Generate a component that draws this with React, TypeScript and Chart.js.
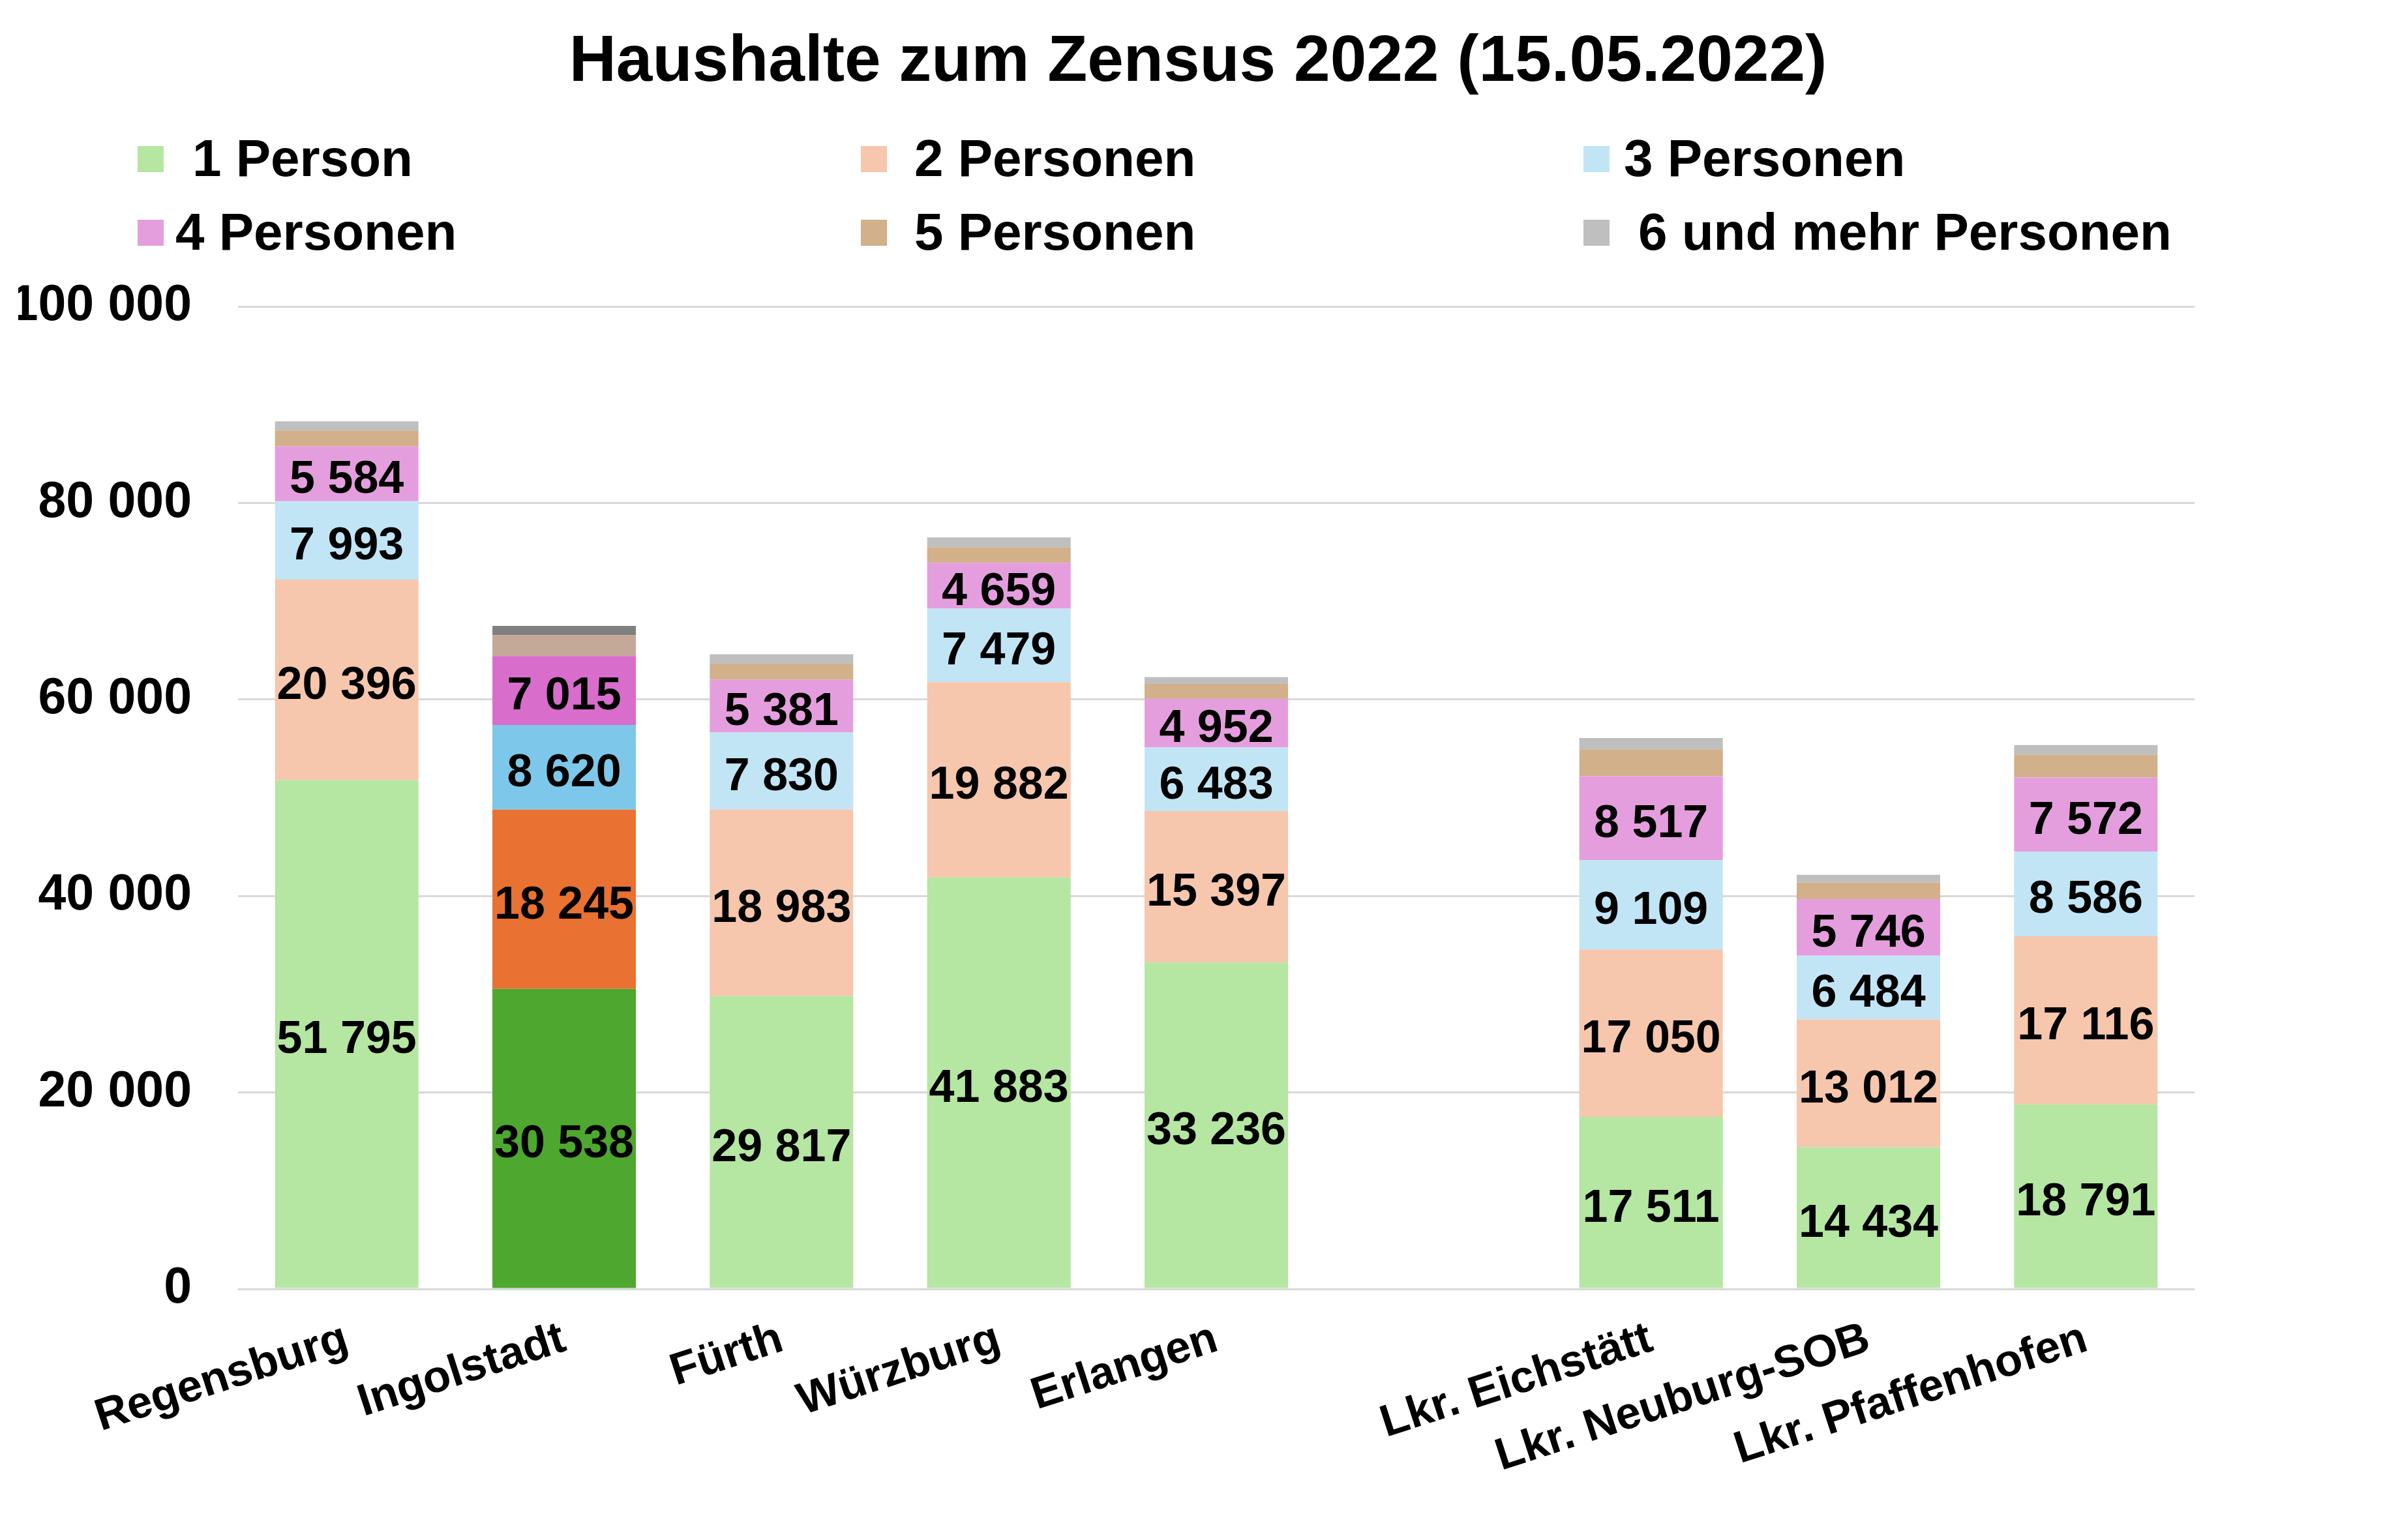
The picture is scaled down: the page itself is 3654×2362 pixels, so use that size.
import { useEffect, useRef } from 'react';
import { Chart, registerables } from 'chart.js';

Chart.register(...registerables);

const FONT = "'Liberation Sans', Arial, sans-serif";

const categories = [
  'Regensburg',
  'Ingolstadt',
  'Fürth',
  'Würzburg',
  'Erlangen',
  '',
  'Lkr. Eichstätt',
  'Lkr. Neuburg-SOB',
  'Lkr. Pfaffenhofen',
];

const onePerson = [51795, 30538, 29817, 41883, 33236, null, 17511, 14434, 18791];
const twoPersons = [20396, 18245, 18983, 19882, 15397, null, 17050, 13012, 17116];
const threePersons = [7993, 8620, 7830, 7479, 6483, null, 9109, 6484, 8586];
const fourPersons = [5584, 7015, 5381, 4659, 4952, null, 8517, 5746, 7572];
const fivePersons = [1610, 2120, 1630, 1565, 1505, null, 2740, 1700, 2300];
const sixPlusPersons = [930, 950, 955, 1020, 710, null, 1150, 775, 995];

const seriesLabels = ['1 Person', '2 Personen', '3 Personen', '4 Personen', '5 Personen', '6 und mehr Personen'];
const seriesValues = [onePerson, twoPersons, threePersons, fourPersons, fivePersons, sixPlusPersons];

// normal colours and the highlighted (Ingolstadt) colours
const baseColors = ['#B5E6A2', '#F6C6AD', '#C1E5F5', '#E59EDD', '#D1B08A', '#BFBFBF'];
const highlightColors = ['#4EA72E', '#E97132', '#7DC8EA', '#D86DCB', '#C4A898', '#808080'];
const highlightIndex = 1;

const labelledSeries = 4; // only 1-4 Personen carry value labels

// legend layout (canvas px)
const legendMarkerX = [203, 1312, 2420, 203, 1312, 2420];
const legendTextX = [287, 1394, 2482, 261, 1394, 2504];
const legendRowOf = [0, 0, 0, 1, 1, 1];

const fmt = (v: number) => String(v).replace(/\B(?=(\d{3})+(?!\d))/g, ' ');

const overlayPlugin = {
  id: 'overlay',
  afterDatasetsDraw(chart: any) {
    const { ctx } = chart;
    ctx.save();
    ctx.font = `bold 70px ${FONT}`;
    ctx.fillStyle = '#000000';
    ctx.textAlign = 'center';
    ctx.textBaseline = 'middle';
    for (let d = 0; d < labelledSeries; d++) {
      const meta = chart.getDatasetMeta(d);
      meta.data.forEach((el: any, i: number) => {
        const v = seriesValues[d][i];
        if (v == null) return;
        ctx.fillText(fmt(v), el.x, (el.y + el.base) / 2 + 10);
      });
    }
    ctx.restore();
  },
  afterDraw(chart: any) {
    const { ctx } = chart;
    ctx.save();
    ctx.font = `bold 80px ${FONT}`;
    ctx.textBaseline = 'alphabetic';
    ctx.textAlign = 'left';
    seriesLabels.forEach((label, i) => {
      const baseY = legendRowOf[i] === 0 ? 262 : 375;
      ctx.fillStyle = baseColors[i];
      ctx.fillRect(legendMarkerX[i], baseY - 46, 40, 40);
      ctx.fillStyle = '#000000';
      ctx.fillText(label, legendTextX[i], baseY);
    });
    ctx.restore();
  },
};

export default function App() {
  const canvasRef = useRef<HTMLCanvasElement | null>(null);
  const chartRef = useRef<Chart | null>(null);

  useEffect(() => {
    if (!canvasRef.current) return;
    if (chartRef.current) chartRef.current.destroy();

    chartRef.current = new Chart(canvasRef.current, {
      type: 'bar',
      data: {
        labels: categories,
        datasets: seriesLabels.map((label, s) => ({
          label,
          data: seriesValues[s],
          backgroundColor: categories.map((_, i) => (i === highlightIndex ? highlightColors[s] : baseColors[s])),
          borderWidth: 0,
          barPercentage: 0.66,
          categoryPercentage: 1,
        })),
      },
      options: {
        animation: false,
        responsive: true,
        maintainAspectRatio: false,
        events: [],
        layout: { padding: { left: 20, right: 0, top: 0, bottom: 0 } },
        plugins: {
          legend: { display: false },
          tooltip: { enabled: false },
          title: {
            display: true,
            text: 'Haushalte zum Zensus 2022 (15.05.2022)',
            color: '#000000',
            font: { family: FONT, size: 100, weight: 'bold' },
            padding: { top: 28, bottom: 314 },
          },
        },
        scales: {
          x: {
            stacked: true,
            grid: { display: false, drawTicks: false },
            border: { display: false },
            ticks: {
              color: '#000000',
              font: { family: FONT, size: 69, weight: 'bold' },
              minRotation: 18,
              maxRotation: 18,
              autoSkip: false,
              padding: 36,
            },
            afterFit: (scale: any) => {
              scale.height = 377;
            },
          },
          y: {
            stacked: true,
            min: 0,
            max: 100000,
            grid: { color: '#D9D9D9', lineWidth: 3, drawTicks: false },
            border: { display: false },
            ticks: {
              stepSize: 20000,
              color: '#000000',
              font: { family: FONT, size: 77, weight: 'bold' },
              padding: 71,
              callback: (v: any) => fmt(Number(v)),
            },
            afterFit: (scale: any) => {
              scale.width = 337;
            },
          },
          spacer: {
            position: 'right',
            display: true,
            grid: { display: false, drawTicks: false },
            border: { display: false },
            ticks: { display: false },
            afterFit: (scale: any) => {
              scale.width = 281;
            },
          },
        },
      },
      plugins: [overlayPlugin],
    } as any);

    return () => {
      if (chartRef.current) {
        chartRef.current.destroy();
        chartRef.current = null;
      }
    };
  }, []);

  return (
    <div style={{ width: '100%', height: 'calc(100vh - 16px)', background: '#ffffff' }}>
      <canvas ref={canvasRef}></canvas>
    </div>
  );
}
